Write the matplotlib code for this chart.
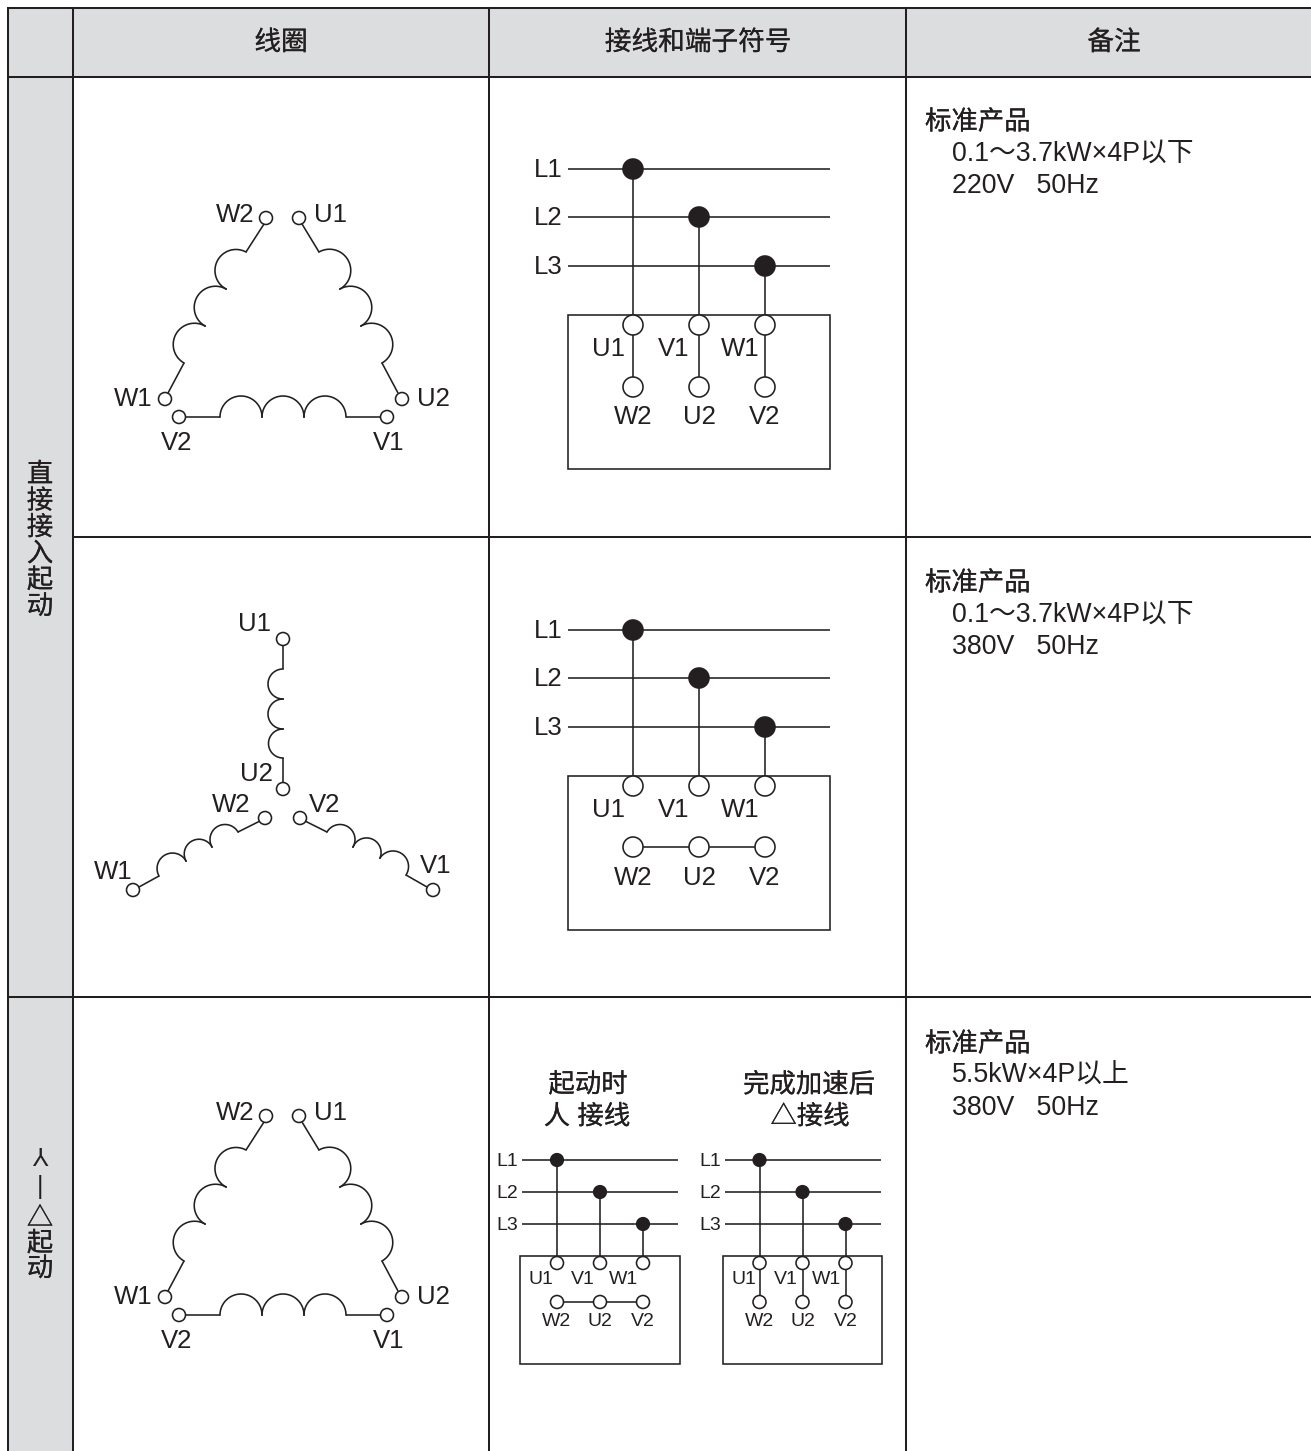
import numpy as np
import matplotlib
matplotlib.use("Agg")
import matplotlib.pyplot as plt
import matplotlib.patheffects as pe
from matplotlib.patches import Circle, Rectangle

plt.rcParams['font.family'] = ['Liberation Sans', 'Noto Sans CJK SC', 'DejaVu Sans']

INK = '#231f20'
GREY = '#dcddde'
HEAVY = [pe.withStroke(linewidth=0.15, foreground=INK)]

# table
col_x = [8, 72.5, 489, 906]
row_y = [8, 77, 537, 997]
headers = ['线圈', '接线和端子符号', '备注']
header_x = [281, 698, 1114]
notes = [
    ['标准产品', '0.1～3.7kW×4P以下', '220V   50Hz'],
    ['标准产品', '0.1～3.7kW×4P以下', '380V   50Hz'],
    ['标准产品', '5.5kW×4P以上', '380V   50Hz'],
]
note_y = [120, 581, 1042]

# delta winding, row 1
delta_terms = [(266, 218), (299, 218), (165, 399), (179, 417), (387, 417), (402, 399)]
delta_labels = [('W2', 235, 213), ('U1', 330, 213), ('W1', 133, 397),
                ('U2', 433, 397), ('V2', 177, 441), ('V1', 389, 441)]
delta_coils = [
    [(184, 363), (205, 326), (226, 289), (246, 252)],
    [(319, 252), (340, 289), (361, 326), (382, 363)],
    [(220, 417), (262, 417), (304, 417), (346, 417)],
]
delta_leads = [
    [(168, 393), (184, 363)], [(246, 252), (264, 224)],
    [(302, 224), (319, 252)], [(382, 363), (398, 393)],
    [(185, 417), (220, 417)], [(346, 417), (381, 417)],
]
delta2_shift = 898

# star winding, row 2
star_terms = [(283, 639), (283, 789), (265, 818), (300, 818), (133, 890), (433, 890)]
star_labels = [('U1', 254, 622), ('U2', 256, 772), ('W2', 231, 803),
               ('V2', 325, 803), ('W1', 113, 870), ('V1', 436, 864)]
star_coils = [
    [(283, 758), (283, 729), (283, 699), (283, 669)],
    [(159, 876), (186, 861), (212, 847), (238, 832)],
    [(327, 832), (353, 847), (380, 858), (406, 875)],
]
star_leads = [
    [(283, 645), (283, 669)], [(283, 758), (283, 783)],
    [(238, 832), (260, 821)], [(305, 821), (327, 832)],
    [(139, 887), (159, 876)], [(406, 875), (427, 887)],
]

# wiring diagrams
phase_names = ['L1', 'L2', 'L3']
top_names = ['U1', 'V1', 'W1']
bottom_names = ['W2', 'U2', 'V2']
big_phase_y = [169, 217, 266]
big_x = [633, 699, 765]
big_top_label_x = [608, 674, 740]
small_phase_y = [1160, 1192, 1224]
small_x = [557, 600, 643]
small_top_label_x = [541, 583, 624]
small_shift = 202.5
star_title = ['起动时', '人 接线']
delta_title = ['完成加速后', '△接线']

# left column
row1_side = '直\n接\n接\n入\n起\n动'
row3_side = '△\n起\n动'

fig = plt.figure(figsize=(1311 / 100, 1451 / 100), dpi=100)
ax = fig.add_axes([0, 0, 1, 1])
ax.set_xlim(0, 1311)
ax.set_ylim(1451, 0)
ax.axis('off')


def seg(points, lw=1.15, z=2):
    xs, ys = zip(*points)
    ax.plot(xs, ys, color=INK, lw=lw, zorder=z, solid_capstyle='butt')


def label(s, x, y, size=18.5, **kw):
    ax.text(x, y + 2, s, fontsize=size, color=INK, ha=kw.pop('ha', 'center'), va='center', **kw)


def coil(points):
    # half circles between neighbouring points, bulging left of the travel direction
    for a, b in zip(points[:-1], points[1:]):
        a, b = np.array(a, float), np.array(b, float)
        mid = (a + b) / 2
        r = np.linalg.norm(b - a) / 2
        u = (a - mid) / r
        n = np.array([(b - a)[1], -(b - a)[0]]) / (2 * r)
        t = np.linspace(0, np.pi, 40)
        ax.plot(mid[0] + r * (np.cos(t) * u[0] + np.sin(t) * n[0]),
                mid[1] + r * (np.cos(t) * u[1] + np.sin(t) * n[1]),
                color=INK, lw=1.15, zorder=2)


def term(x, y, r, fill='white'):
    ax.add_patch(Circle((x, y), r, fc=fill, ec=INK, lw=1.15, zorder=3))


def shifted(pts, dy):
    return [(x, y + dy) for x, y in pts]


def winding(terms, labels, coils, leads, dy=0):
    for c in coils:
        coil(shifted(c, dy))
    for l in leads:
        seg(shifted(l, dy))
    for x, y in terms:
        term(x, y + dy, 6.5)
    for s, x, y in labels:
        label(s, x, y + dy)


def wiring(phase_y, xs, top_label_x, box, line_x, label_x, r_dot, r_term, y_top, y_bot,
           y_top_label, y_bot_label, size, star):
    for name, y, x in zip(phase_names, phase_y, xs):
        seg([(line_x[0], y), (line_x[1], y)])
        label(name, label_x, y - 1, size=size)
        term(x, y, r_dot, fill=INK)
        seg([(x, y), (x, box[1])])
    ax.add_patch(Rectangle((box[0], box[1]), box[2] - box[0], box[3] - box[1],
                           fc='white', ec=INK, lw=1.15, zorder=1.5))
    for x, lx, top, bot in zip(xs, top_label_x, top_names, bottom_names):
        if not star:
            seg([(x, y_top), (x, y_bot)])
        term(x, y_top, r_term)
        term(x, y_bot, r_term)
        label(top, lx, y_top_label, size=size)
        label(bot, x, y_bot_label, size=size)
    if star:
        seg([(xs[0], y_bot), (xs[2], y_bot)])


# grey bands
ax.add_patch(Rectangle((col_x[0], row_y[0]), 1311 - col_x[0], row_y[1] - row_y[0], fc=GREY, ec='none', zorder=0))
ax.add_patch(Rectangle((col_x[0], row_y[0]), col_x[1] - col_x[0], 1451 - row_y[0], fc=GREY, ec='none', zorder=0))

# grid, the left column spans rows 1 and 2
for x in col_x:
    ax.plot([x, x], [row_y[0], 1451], color=INK, lw=1.45, zorder=1)
for y in row_y:
    x0 = col_x[1] if y == 537 else col_x[0]
    ax.plot([x0, 1311], [y, y], color=INK, lw=1.45, zorder=1)

for s, x in zip(headers, header_x):
    label(s, x, 41, size=19.2, path_effects=HEAVY)

for lines, y in zip(notes, note_y):
    label(lines[0], 925, y, size=19, ha='left', path_effects=HEAVY)
    label(lines[1], 952, y + 32, size=19.3, ha='left')
    label(lines[2], 952, y + 64, size=19.3, ha='left')

# left column text
ax.text(40, 541, row1_side, fontsize=19, color=INK, ha='center', va='center', linespacing=1.12, path_effects=HEAVY)
ax.text(40, 1153, 'Y', fontsize=18, color=INK, ha='center', va='center', rotation=180)
ax.text(40, 1187, '|', fontsize=18, color=INK, ha='center', va='center')
ax.text(40, 1244, row3_side, fontsize=19, color=INK, ha='center', va='center', linespacing=1.06, path_effects=HEAVY)

# coils
winding(delta_terms, delta_labels, delta_coils, delta_leads)
winding(star_terms, star_labels, star_coils, star_leads)
winding(delta_terms, delta_labels, delta_coils, delta_leads, dy=delta2_shift)

# big wiring, rows 1 and 2
wiring(big_phase_y, big_x, big_top_label_x, (568, 315, 830, 469), (568, 830), 548,
       10, 10, 325, 387, 347, 415, 18.5, False)
wiring([y + 461 for y in big_phase_y], big_x, big_top_label_x, (568, 776, 830, 930), (568, 830), 548,
       10, 10, 786, 847, 808, 876, 18.5, True)

# small wiring, row 3
wiring(small_phase_y, small_x, small_top_label_x, (520, 1256, 680, 1364), (522, 678), 507,
       6.3, 6.5, 1263, 1302, 1278, 1320, 14, True)
wiring(small_phase_y, [x + small_shift for x in small_x], [x + small_shift for x in small_top_label_x],
       (723, 1256, 882, 1364), (725, 881), 710, 6.3, 6.5, 1263, 1302, 1278, 1320, 14, False)

label(star_title[0], 588, 1083, size=19, path_effects=HEAVY)
label(star_title[1], 587, 1115, size=19, path_effects=HEAVY)
label(delta_title[0], 809, 1083, size=19, path_effects=HEAVY)
label(delta_title[1], 810, 1115, size=19, path_effects=HEAVY)

fig.savefig('out.png', dpi=100, facecolor='white')
